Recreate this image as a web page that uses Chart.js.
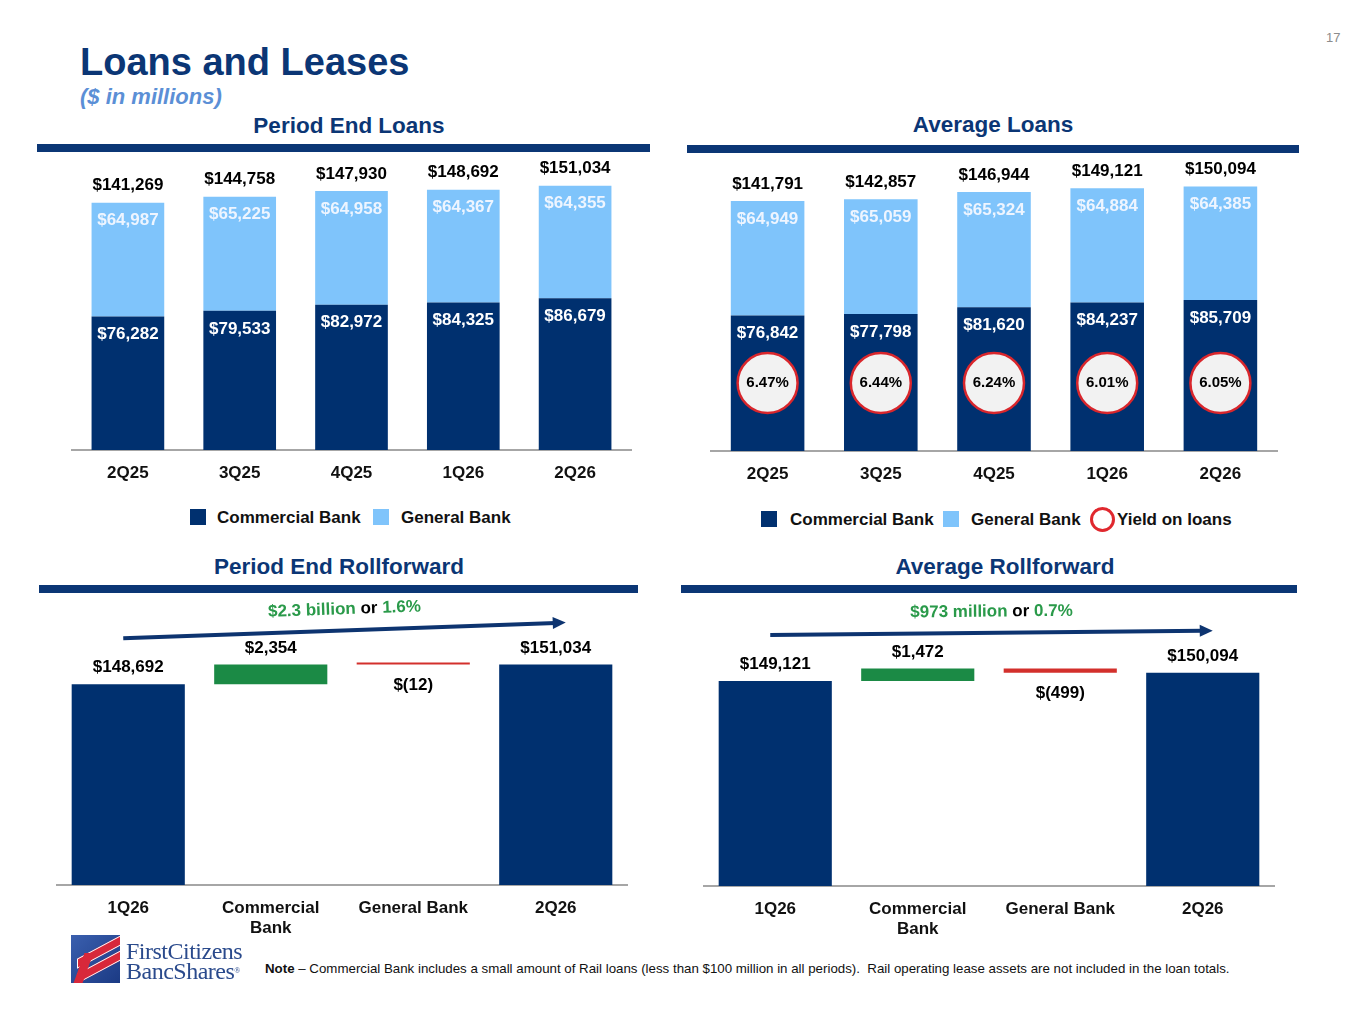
<!DOCTYPE html>
<html>
<head>
<meta charset="utf-8">
<script src="https://cdn.jsdelivr.net/npm/chart.js@4.4.0/dist/chart.umd.min.js"></script>
<style>
  body { margin: 0; width: 1365px; height: 1024px; position: relative; background: #fff; overflow: hidden;
         font-family: "Liberation Sans", Arial, sans-serif; }
  .abs { position: absolute; white-space: nowrap; }
  .title { color: #0b3675; font-weight: bold; }
  .sect { color: #0b3675; font-weight: bold; font-size: 22.5px; line-height: 22.5px; text-align: center; width: 400px; }
  .rule { background: #0b3675; height: 8px; }
  .box { width: 16px; height: 16px; }
  .leg { font-size: 17px; line-height: 17px; font-weight: bold; color: #111; }
  .chart { position: absolute; }
</style>
</head>
<body>
<div class="abs" style="left:1326px;top:30px;font-size:13px;color:#8c8c8c;">17</div>
<div class="abs title" style="left:80px;top:43px;font-size:38px;line-height:38px;">Loans and Leases</div>
<div class="abs" style="left:80px;top:86px;font-size:22px;line-height:22px;font-weight:bold;font-style:italic;color:#5b8fd6;">($ in millions)</div>

<div class="abs sect" style="left:149px;top:115px;">Period End Loans</div>
<div class="abs rule" style="left:37px;top:144px;width:613px;"></div>
<div class="abs sect" style="left:793px;top:114px;">Average Loans</div>
<div class="abs rule" style="left:687px;top:145px;width:612px;"></div>
<div class="abs sect" style="left:139px;top:556px;">Period End Rollforward</div>
<div class="abs rule" style="left:39px;top:585px;width:599px;"></div>
<div class="abs sect" style="left:805px;top:556px;">Average Rollforward</div>
<div class="abs rule" style="left:681px;top:585px;width:616px;"></div>

<div class="chart" style="left:40px;top:150px;width:620px;height:340px;"><canvas id="peLoans"></canvas></div>
<div class="chart" style="left:690px;top:150px;width:610px;height:341px;"><canvas id="avgLoans"></canvas></div>
<div class="chart" style="left:40px;top:596px;width:610px;height:354px;"><canvas id="peRoll"></canvas></div>
<div class="chart" style="left:690px;top:596px;width:610px;height:355px;"><canvas id="avgRoll"></canvas></div>

<!-- legends -->
<div class="abs box" style="left:190px;top:509px;background:#00306f;"></div>
<div class="abs leg" style="left:217px;top:509px;">Commercial Bank</div>
<div class="abs box" style="left:373px;top:509px;background:#7fc4fb;"></div>
<div class="abs leg" style="left:401px;top:509px;">General Bank</div>

<div class="abs box" style="left:761px;top:511px;background:#00306f;"></div>
<div class="abs leg" style="left:790px;top:511px;">Commercial Bank</div>
<div class="abs box" style="left:943px;top:511px;background:#7fc4fb;"></div>
<div class="abs leg" style="left:971px;top:511px;">General Bank</div>
<div class="abs" style="left:1090px;top:507px;width:19px;height:19px;border:3px solid #e0282e;border-radius:50%;"></div>
<div class="abs leg" style="left:1117px;top:511px;">Yield on loans</div>

<!-- logo -->
<div class="abs" style="left:71px;top:935px;width:49px;height:48px;background:linear-gradient(135deg,#3a5fae,#1b3a84);overflow:hidden;">
  <div class="abs" style="left:6px;top:12px;width:42px;height:8px;background:#d8283a;transform:skewY(-28deg);border:1px solid #fff;"></div>
  <div class="abs" style="left:6px;top:27px;width:42px;height:8px;background:#d8283a;transform:skewY(-28deg);border:1px solid #fff;"></div>
  <div class="abs" style="left:8px;top:18px;width:9px;height:30px;background:#d8283a;transform:skewX(-20deg);"></div>
</div>
<div class="abs" style="left:126px;top:939px;font-family:'Liberation Serif','DejaVu Serif',serif;font-size:24px;line-height:24px;color:#2a4a8c;letter-spacing:-0.5px;">FirstCitizens</div>
<div class="abs" style="left:126px;top:959px;font-family:'Liberation Serif','DejaVu Serif',serif;font-size:24px;line-height:24px;color:#2a4a8c;letter-spacing:-0.5px;">BancShares<span style="font-size:8px;vertical-align:top;">®</span></div>

<div class="abs" style="left:265px;top:962px;font-size:13.3px;line-height:14px;color:#111;"><b>Note</b> – Commercial Bank includes a small amount of Rail loans (less than $100 million in all periods).&nbsp; Rail operating lease assets are not included in the loan totals.</div>

<script>
const quarters = ['2Q25', '3Q25', '4Q25', '1Q26', '2Q26'];

// period end loans
const peCommercial = [76282, 79533, 82972, 84325, 86679];
const peGeneral = [64987, 65225, 64958, 64367, 64355];
const peTotals = [141269, 144758, 147930, 148692, 151034];

// average loans
const avgCommercial = [76842, 77798, 81620, 84237, 85709];
const avgGeneral = [64949, 65059, 65324, 64884, 64385];
const avgTotals = [141791, 142857, 146944, 149121, 150094];
const loanYields = [6.47, 6.44, 6.24, 6.01, 6.05];

// rollforwards: start, commercial change, general change, end
const rollCats = ['1Q26', ['Commercial', 'Bank'], 'General Bank', '2Q26'];
const peRollValues = [148692, 2354, -12, 151034];
const avgRollValues = [149121, 1472, -499, 150094];
const peRollNote = ['$2.3 billion', ' or ', '1.6%'];
const avgRollNote = ['$973 million', ' or ', '0.7%'];

const NAVY = '#00306f';
const LIGHT = '#7fc4fb';
const GREEN = '#1b8a45';
const RED = '#d3302c';
const FONT = '"Liberation Sans", Arial, sans-serif';

const fmt = v => v < 0 ? '$(' + Math.abs(v).toLocaleString('en-US') + ')' : '$' + v.toLocaleString('en-US');

const stackLabels = {
  id: 'stackLabels',
  afterDatasetsDraw(chart, args, opts) {
    const ctx = chart.ctx;
    const comm = chart.getDatasetMeta(0).data;
    const gen = chart.getDatasetMeta(1).data;
    ctx.save();
    ctx.textAlign = 'center';
    ctx.textBaseline = 'middle';
    comm.forEach((bar, i) => {
      ctx.font = 'bold 17px ' + FONT;
      ctx.fillStyle = '#ffffff';
      ctx.fillText(fmt(chart.data.datasets[0].data[i]), bar.x, bar.y + 18);
      ctx.fillStyle = '#eef5ff';
      ctx.fillText(fmt(chart.data.datasets[1].data[i]), gen[i].x, gen[i].y + 18);
      ctx.fillStyle = '#000000';
      ctx.fillText(fmt(opts.totals[i]), gen[i].x, gen[i].y - 17);
      if (opts.yields) {
        const cy = bar.base - 68;
        ctx.beginPath();
        ctx.arc(bar.x, cy, 30, 0, Math.PI * 2);
        ctx.fillStyle = '#f2f2f2';
        ctx.fill();
        ctx.lineWidth = 2.5;
        ctx.strokeStyle = '#d9262c';
        ctx.stroke();
        ctx.font = 'bold 15px ' + FONT;
        ctx.fillStyle = '#000000';
        ctx.fillText(opts.yields[i].toFixed(2) + '%', bar.x, cy);
      }
    });
    ctx.restore();
  }
};

const rollLabels = {
  id: 'rollLabels',
  afterDatasetsDraw(chart, args, opts) {
    const ctx = chart.ctx;
    const bars = chart.getDatasetMeta(0).data;
    ctx.save();
    ctx.textAlign = 'center';
    ctx.textBaseline = 'middle';
    ctx.font = 'bold 17px ' + FONT;
    ctx.fillStyle = '#000000';
    bars.forEach((bar, i) => {
      const top = Math.min(bar.y, bar.base);
      const bottom = Math.max(bar.y, bar.base);
      const v = opts.values[i];
      if (v < 0) ctx.fillText(fmt(v), bar.x, bottom + 21);
      else ctx.fillText(fmt(v), bar.x, top - (i === 0 ? 17 : 16));
    });
    // trend arrow
    const first = bars[0], last = bars[bars.length - 1];
    const x1 = first.x - 5, y1 = Math.min(first.y, first.base) - 46;
    const x2 = last.x + 10, y2 = Math.min(last.y, last.base) - 42;
    const ang = Math.atan2(y2 - y1, x2 - x1);
    ctx.strokeStyle = '#0d3470';
    ctx.fillStyle = '#0d3470';
    ctx.lineWidth = 4;
    ctx.beginPath();
    ctx.moveTo(x1, y1);
    ctx.lineTo(x2 - 10 * Math.cos(ang), y2 - 10 * Math.sin(ang));
    ctx.stroke();
    ctx.beginPath();
    ctx.moveTo(x2, y2);
    ctx.lineTo(x2 - 13 * Math.cos(ang) + 6 * Math.sin(ang), y2 - 13 * Math.sin(ang) - 6 * Math.cos(ang));
    ctx.lineTo(x2 - 13 * Math.cos(ang) - 6 * Math.sin(ang), y2 - 13 * Math.sin(ang) + 6 * Math.cos(ang));
    ctx.closePath();
    ctx.fill();
    // change note above arrow
    const parts = opts.note;
    const cols = ['#2a9a4a', '#000000', '#2a9a4a'];
    const widths = parts.map(p => ctx.measureText(p).width);
    const total = widths.reduce((a, b) => a + b, 0);
    ctx.translate((x1 + x2) / 2, (y1 + y2) / 2 - 21);
    ctx.rotate(ang);
    ctx.textAlign = 'left';
    let x = -total / 2;
    parts.forEach((p, i) => {
      ctx.fillStyle = cols[i];
      ctx.fillText(p, x, 0);
      x += widths[i];
    });
    ctx.restore();
  }
};

// tick labels are clipped to the axis box, so its height is fixed here
const xAxis = (stacked, h) => ({
  stacked: stacked,
  grid: { display: false, drawTicks: false },
  border: { display: true, color: '#a6a6a6', width: 2 },
  ticks: { color: '#111', padding: 13, font: { size: 17, weight: 'bold', family: FONT } },
  afterFit: s => { s.height = h; }
});

function stackedChart(id, commercial, general, pad, pluginOpts) {
  return new Chart(document.getElementById(id), {
    type: 'bar',
    data: {
      labels: quarters,
      datasets: [
        { label: 'Commercial Bank', data: commercial, backgroundColor: NAVY, barPercentage: 0.65, categoryPercentage: 1 },
        { label: 'General Bank', data: general, backgroundColor: LIGHT, barPercentage: 0.65, categoryPercentage: 1 }
      ]
    },
    options: {
      responsive: true,
      maintainAspectRatio: false,
      animation: false,
      layout: { padding: pad },
      plugins: { legend: { display: false }, tooltip: { enabled: false }, stackLabels: pluginOpts },
      scales: {
        x: xAxis(true, 40),
        y: { stacked: true, display: false, min: 0, max: 160000 }
      }
    },
    plugins: [stackLabels]
  });
}

function rollChart(id, values, note, pad) {
  const yMin = 125000;
  const mid = values[0] + values[1];
  const floating = [[yMin, values[0]], [values[0], mid], [mid, mid + values[2]], [yMin, values[3]]];
  return new Chart(document.getElementById(id), {
    type: 'bar',
    data: {
      labels: rollCats,
      datasets: [{
        data: floating,
        backgroundColor: [NAVY, GREEN, RED, NAVY],
        barPercentage: 0.794,
        categoryPercentage: 1,
        minBarLength: 2
      }]
    },
    options: {
      responsive: true,
      maintainAspectRatio: false,
      animation: false,
      layout: { padding: pad },
      plugins: { legend: { display: false }, tooltip: { enabled: false }, rollLabels: { values: values, note: note } },
      scales: {
        x: xAxis(false, 62),
        y: { display: false, min: yMin, max: 157000 }
      }
    },
    plugins: [rollLabels]
  });
}

stackedChart('peLoans', peCommercial, peGeneral, { left: 32, right: 29, top: 20, bottom: 0 }, { totals: peTotals });
stackedChart('avgLoans', avgCommercial, avgGeneral, { left: 21, right: 23, top: 19, bottom: 0 }, { totals: avgTotals, yields: loanYields });
rollChart('peRoll', peRollValues, peRollNote, { left: 17, right: 23, top: 18, bottom: 3 });
rollChart('avgRoll', avgRollValues, avgRollNote, { left: 14, right: 26, top: 18, bottom: 3 });
</script>
</body>
</html>
